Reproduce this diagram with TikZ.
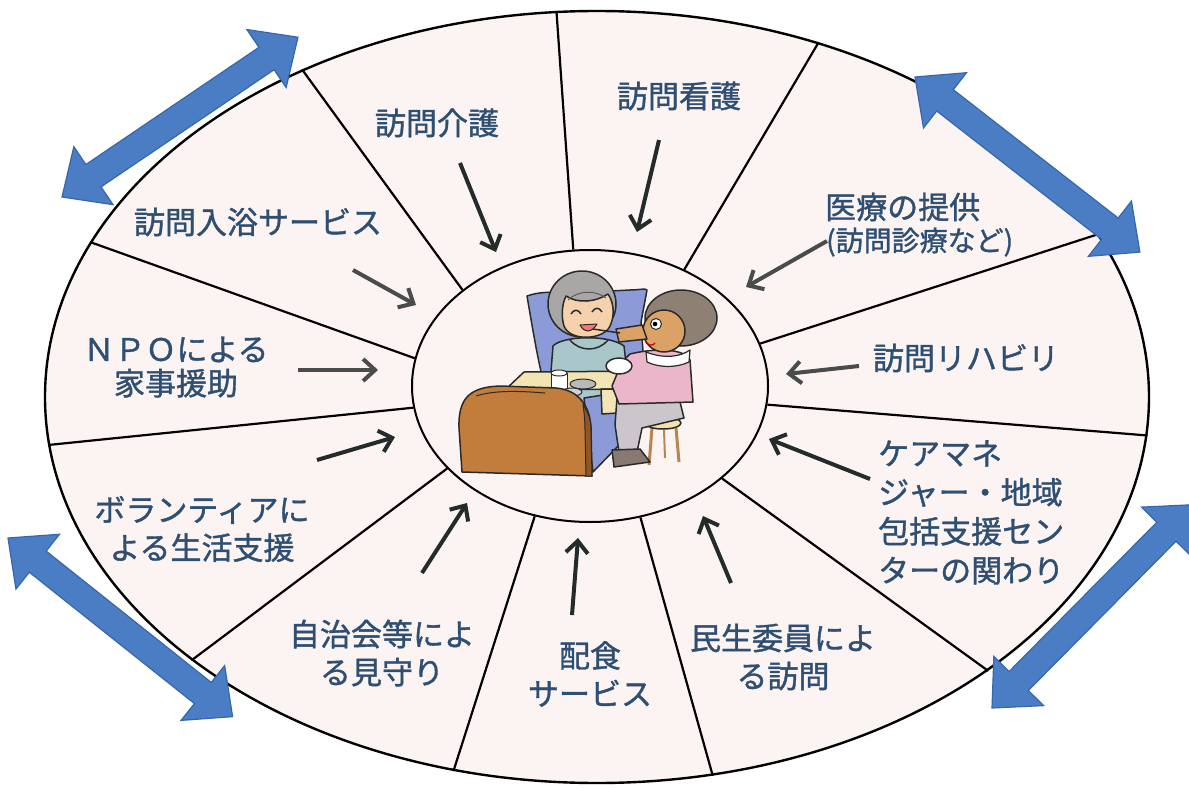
\documentclass[tikz,border=0pt]{standalone}
\usepackage{fontspec}
\usetikzlibrary{shapes.geometric,arrows.meta}
\newfontfamily\jpfont[FakeBold=1.2]{Noto Sans CJK JP}

\definecolor{txtblue}{HTML}{2E4F72}
\definecolor{ringfill}{HTML}{FCF4F2}
\definecolor{arrowdark}{HTML}{232B2B}
\definecolor{arrowgray}{HTML}{4A4C4C}
\definecolor{bluefill}{HTML}{4A7DC4}
\definecolor{blueedge}{HTML}{3567AD}
\definecolor{pillow}{HTML}{8C9AD8}
\definecolor{hairgray}{HTML}{A9A7A6}
\definecolor{skin}{HTML}{F6D2AC}
\definecolor{gown}{HTML}{A9C7CB}
\definecolor{bedbrown}{HTML}{C27C3C}
\definecolor{bedbrowndark}{HTML}{8E5725}
\definecolor{tablecream}{HTML}{F3E4B4}
\definecolor{hairbrown}{HTML}{8F8074}
\definecolor{skintan}{HTML}{DBA265}
\definecolor{pinktop}{HTML}{ECB6CA}
\definecolor{pants}{HTML}{CBC6CC}
\definecolor{stoolseat}{HTML}{F4E2A8}
\definecolor{stoolleg}{HTML}{B8874E}
\definecolor{shoe}{HTML}{887A72}
\definecolor{outline}{HTML}{2A2A2A}

% a wide two-headed block arrow: #1 tail point, #2 direction, #3 length
\newcommand{\blockdarrow}[3]{%
  \begin{scope}[shift={#1}, rotate=#2]
    \filldraw[bluearrow] (0,0) -- (38,35) -- (38,13.5) -- ({#3-38},13.5)
      -- ({#3-38},35) -- (#3,0) -- ({#3-38},-35) -- ({#3-38},-13.5)
      -- (38,-13.5) -- (38,-35) -- cycle;
  \end{scope}}

\begin{document}
\begin{tikzpicture}[x=1pt, y=-1pt,
  lbl/.style={font=\jpfont\fontsize{31}{38}\selectfont, text=txtblue,
              inner sep=0pt, align=center},
  spoke/.style={line width=2.2pt, draw=black},
  arr/.style={line width=4pt, draw=arrowdark,
              -{Straight Barb[length=12pt, width=22pt]}},
  arrg/.style={arr, draw=arrowgray},
  bluearrow/.style={fill=bluefill, draw=blueedge, line width=1.2pt,
                    line join=miter},
  ill/.style={draw=outline, line width=1.5pt, line join=round},
]
\useasboundingbox (0,0) rectangle (1189,789);
\fill[white] (0,0) rectangle (1189,789);
\clip (0,0) rectangle (1189,789);

% outer ring and central circle
\node[ellipse, draw, line width=2.4pt, fill=ringfill, inner sep=0pt,
      minimum width=1104pt, minimum height=772pt] (ring) at (597,397) {};
\node[ellipse, draw, line width=2pt, fill=ringfill, inner sep=0pt,
      minimum width=356pt, minimum height=272pt] (hub) at (590,386) {};

% dividing spokes
\draw[spoke] (hub.143.4) -- (ring.132.6);
\draw[spoke] (hub.97)    -- (ring.96.2);
\draw[spoke] (hub.51.2)  -- (ring.58.4);
\draw[spoke] (hub.14.2)  -- (ring.18.3);
\draw[spoke] (hub.-6)    -- (ring.-4);
\draw[spoke] (hub.-35.3) -- (ring.-35.5);
\draw[spoke] (hub.-69.4) -- (ring.-73);
\draw[spoke] (hub.-113.8) -- (ring.-111.1);
\draw[spoke] (hub.-150)  -- (ring.-147.3);
\draw[spoke] (hub.187)   -- (ring.185.5);
\draw[spoke] (hub.171.6) -- (ring.163.9);

% labels
\node[lbl] (kaigo)   at (437,123) {訪問介護};
\node[lbl] (kango)   at (679,96)  {訪問看護};
\node[lbl] (nyuyoku) at (258,222) {訪問入浴サービス};
\node[lbl, anchor=west] (iryo) at (825,207) {医療の提供};
\node[lbl, anchor=west, font=\jpfont\fontsize{28}{32}\selectfont]
      (shinryo) at (826,242) {(訪問診療など)};
\node[lbl] (riha)    at (966,358) {訪問リハビリ};
\node[lbl, font=\jpfont\fontsize{31}{34}\selectfont] (npo) at (176,367) {ＮＰＯによる\\家事援助};
\node[lbl] (volun)   at (202,529) {ボランティアに\\よる生活支援};
\node[lbl] (jichi)   at (382,653) {自治会等によ\\る見守り};
\node[lbl] (haishoku) at (590,674) {配食\\サービス};
\node[lbl] (minsei)  at (783,657) {民生委員によ\\る訪問};
\node[lbl, align=left, anchor=north west,
      font=\jpfont\fontsize{31}{39}\selectfont] (caremane) at (878,440)
      {ケアマネ\\ジャー・地域\\包括支援セン\\ターの関わり};

% arrows toward the centre
\coordinate (a1s) at (460,163);  \coordinate (a1e) at (496,252);
\coordinate (a2s) at (659,140);  \coordinate (a2e) at (637,232);
\coordinate (a3s) at (827,241);  \coordinate (a3e) at (746,287);
\coordinate (a4s) at (859,366);  \coordinate (a4e) at (786,374);
\coordinate (a5s) at (870,479);  \coordinate (a5e) at (769,439);
\coordinate (a6s) at (731,583);  \coordinate (a6e) at (703,516);
\coordinate (a7s) at (572,615);  \coordinate (a7e) at (578,538);
\coordinate (a8s) at (422,573);  \coordinate (a8e) at (467,503);
\coordinate (a9s) at (317,460);  \coordinate (a9e) at (395,437);
\coordinate (a10s) at (298,370); \coordinate (a10e) at (378,370);
\coordinate (a11s) at (353,270); \coordinate (a11e) at (416,305);
\draw[arr]  (a1s) -- (a1e);
\draw[arr]  (a2s) -- (a2e);
\draw[arrg] (a3s) -- (a3e);
\draw[arrg] (a4s) -- (a4e);
\draw[arr]  (a5s) -- (a5e);
\draw[arr]  (a6s) -- (a6e);
\draw[arr]  (a7s) -- (a7e);
\draw[arr]  (a8s) -- (a8e);
\draw[arr]  (a9s) -- (a9e);
\draw[arrg] (a10s) -- (a10e);
\draw[arrg] (a11s) -- (a11e);

% blue two-way arrows around the ring
\blockdarrow{(62,197)}{34.1}{285}
\blockdarrow{(915,77)}{-37.9}{285}
\blockdarrow{(8,538)}{-38.5}{287}
\blockdarrow{(992,708)}{45.3}{286}

% ---- centre illustration: mealtime help at the bedside ----
% pillow
\filldraw[ill, fill=pillow] (527,296) .. controls (550,288) and (570,296) .. (590,292)
  -- (630,290) .. controls (640,290) and (645,288) .. (647,290)
  -- (641,322) -- (643,352) -- (612,374) -- (542,376)
  .. controls (536,350) and (532,325) .. (527,296) -- cycle;
% resident: gown
\filldraw[ill, fill=gown] (553,346) .. controls (562,336) and (608,334) .. (624,346)
  -- (630,398) -- (616,432) -- (562,432) -- (550,384) -- cycle;
\draw[ill] (570,340) .. controls (580,352) and (598,352) .. (608,340);
% resident: hair and face
\filldraw[ill, fill=hairgray] (582,304) ellipse [x radius=34, y radius=33];
\filldraw[ill, fill=skin] (566,296)
  .. controls (578,304) and (596,302) .. (608,294)
  .. controls (615,304) and (614,318) .. (610,326)
  .. controls (604,340) and (570,342) .. (564,326)
  .. controls (561,316) and (562,304) .. (566,296) -- cycle;
\draw[ill, draw=hairgray!55!black, line width=1pt] (568,300) .. controls (578,290) and (596,290) .. (606,298);
\draw[ill] (571,314) .. controls (574,309) and (578,309) .. (581,314);
\draw[ill] (592,312) .. controls (595,307) and (599,307) .. (602,312);
\filldraw[ill, fill=red!55, line width=1pt] (580,325) .. controls (584,333) and (592,333) .. (597,324) -- cycle;
% bed mattress beside the footboard
\filldraw[ill, fill=pillow] (584,398) -- (622,392) -- (624,440) -- (593,472) -- cycle;
% over-bed table with the meal
\filldraw[ill, fill=tablecream] (505,390) -- (524,372) -- (650,371) -- (633,389) -- cycle;
\filldraw[ill, fill=tablecream] (601,389) -- (633,389) -- (633,412) -- (602,414) -- cycle;
\filldraw[ill, fill=white, line width=1pt] (551,373) rectangle (567,390);
\filldraw[ill, fill=white, line width=1pt] (559,373) ellipse [x radius=8, y radius=3];
\filldraw[ill, fill=gray!55, line width=1pt] (583,384) ellipse [x radius=13, y radius=5];
\filldraw[ill, fill=gray!35, line width=1pt] (572,392) ellipse [x radius=10, y radius=4];
% footboard
\filldraw[ill, fill=bedbrown] (462,472) -- (459,428)
  .. controls (458,398) and (470,387) .. (500,386) -- (556,388)
  .. controls (578,390) and (590,405) .. (591,428) -- (592,476) -- cycle;
\filldraw[ill, fill=bedbrowndark, line width=1pt] (583,404) .. controls (589,414) and (591,421) .. (591,430)
  -- (592,476) -- (586,476) -- (585,430) .. controls (585,420) and (584,412) .. (583,404) -- cycle;
\draw[ill, line width=1pt] (476,396) .. controls (495,390) and (520,391) .. (545,393);
% caregiver: stool
\draw[line width=3pt, draw=stoolleg] (652,428) -- (649,465);
\draw[line width=3pt, draw=stoolleg] (676,428) -- (679,462);
\draw[line width=2pt, draw=stoolleg] (664,430) -- (665,458);
\filldraw[ill, fill=stoolseat] (663,423) ellipse [x radius=18, y radius=6];
% caregiver: trousers and shoes
\filldraw[ill, fill=pants] (617,398) -- (680,402) -- (684,418) -- (642,428)
  -- (637,452) -- (619,452) -- (615,425) -- cycle;
\filldraw[ill, fill=shoe] (612,450) -- (640,449) -- (650,462) -- (614,467) -- cycle;
% caregiver: top and collar
\filldraw[ill, fill=pinktop] (630,354) .. controls (655,348) and (684,348) .. (690,360)
  -- (693,402) -- (619,404) -- (612,386) -- (622,362) -- cycle;
\filldraw[ill, fill=white, line width=1.2pt] (646,352) .. controls (664,359) and (680,357) .. (690,350)
  -- (689,362) .. controls (676,368) and (660,368) .. (647,362) -- cycle;
% caregiver: hair and face
\filldraw[ill, fill=hairbrown] (681,318) ellipse [x radius=36, y radius=28];
\filldraw[ill, fill=skintan] (664,331) ellipse [x radius=21, y radius=21];
\filldraw[ill, fill=white, line width=1pt] (656,324) circle [radius=5.5];
\fill[black] (655,324) circle [radius=2.3];
\draw[red!80!black, line width=1.2pt] (646,342) .. controls (649,346) and (653,346) .. (655,343);
% caregiver: feeding hand, spoon and bowl
\filldraw[ill, fill=skintan] (616,329) -- (642,325) -- (647,339) -- (619,342) -- cycle;
\draw[line width=1.5pt, draw=outline] (593,329) -- (620,333);
\filldraw[ill, fill=white] (619,366) ellipse [x radius=13, y radius=8];
\end{tikzpicture}
\end{document}
